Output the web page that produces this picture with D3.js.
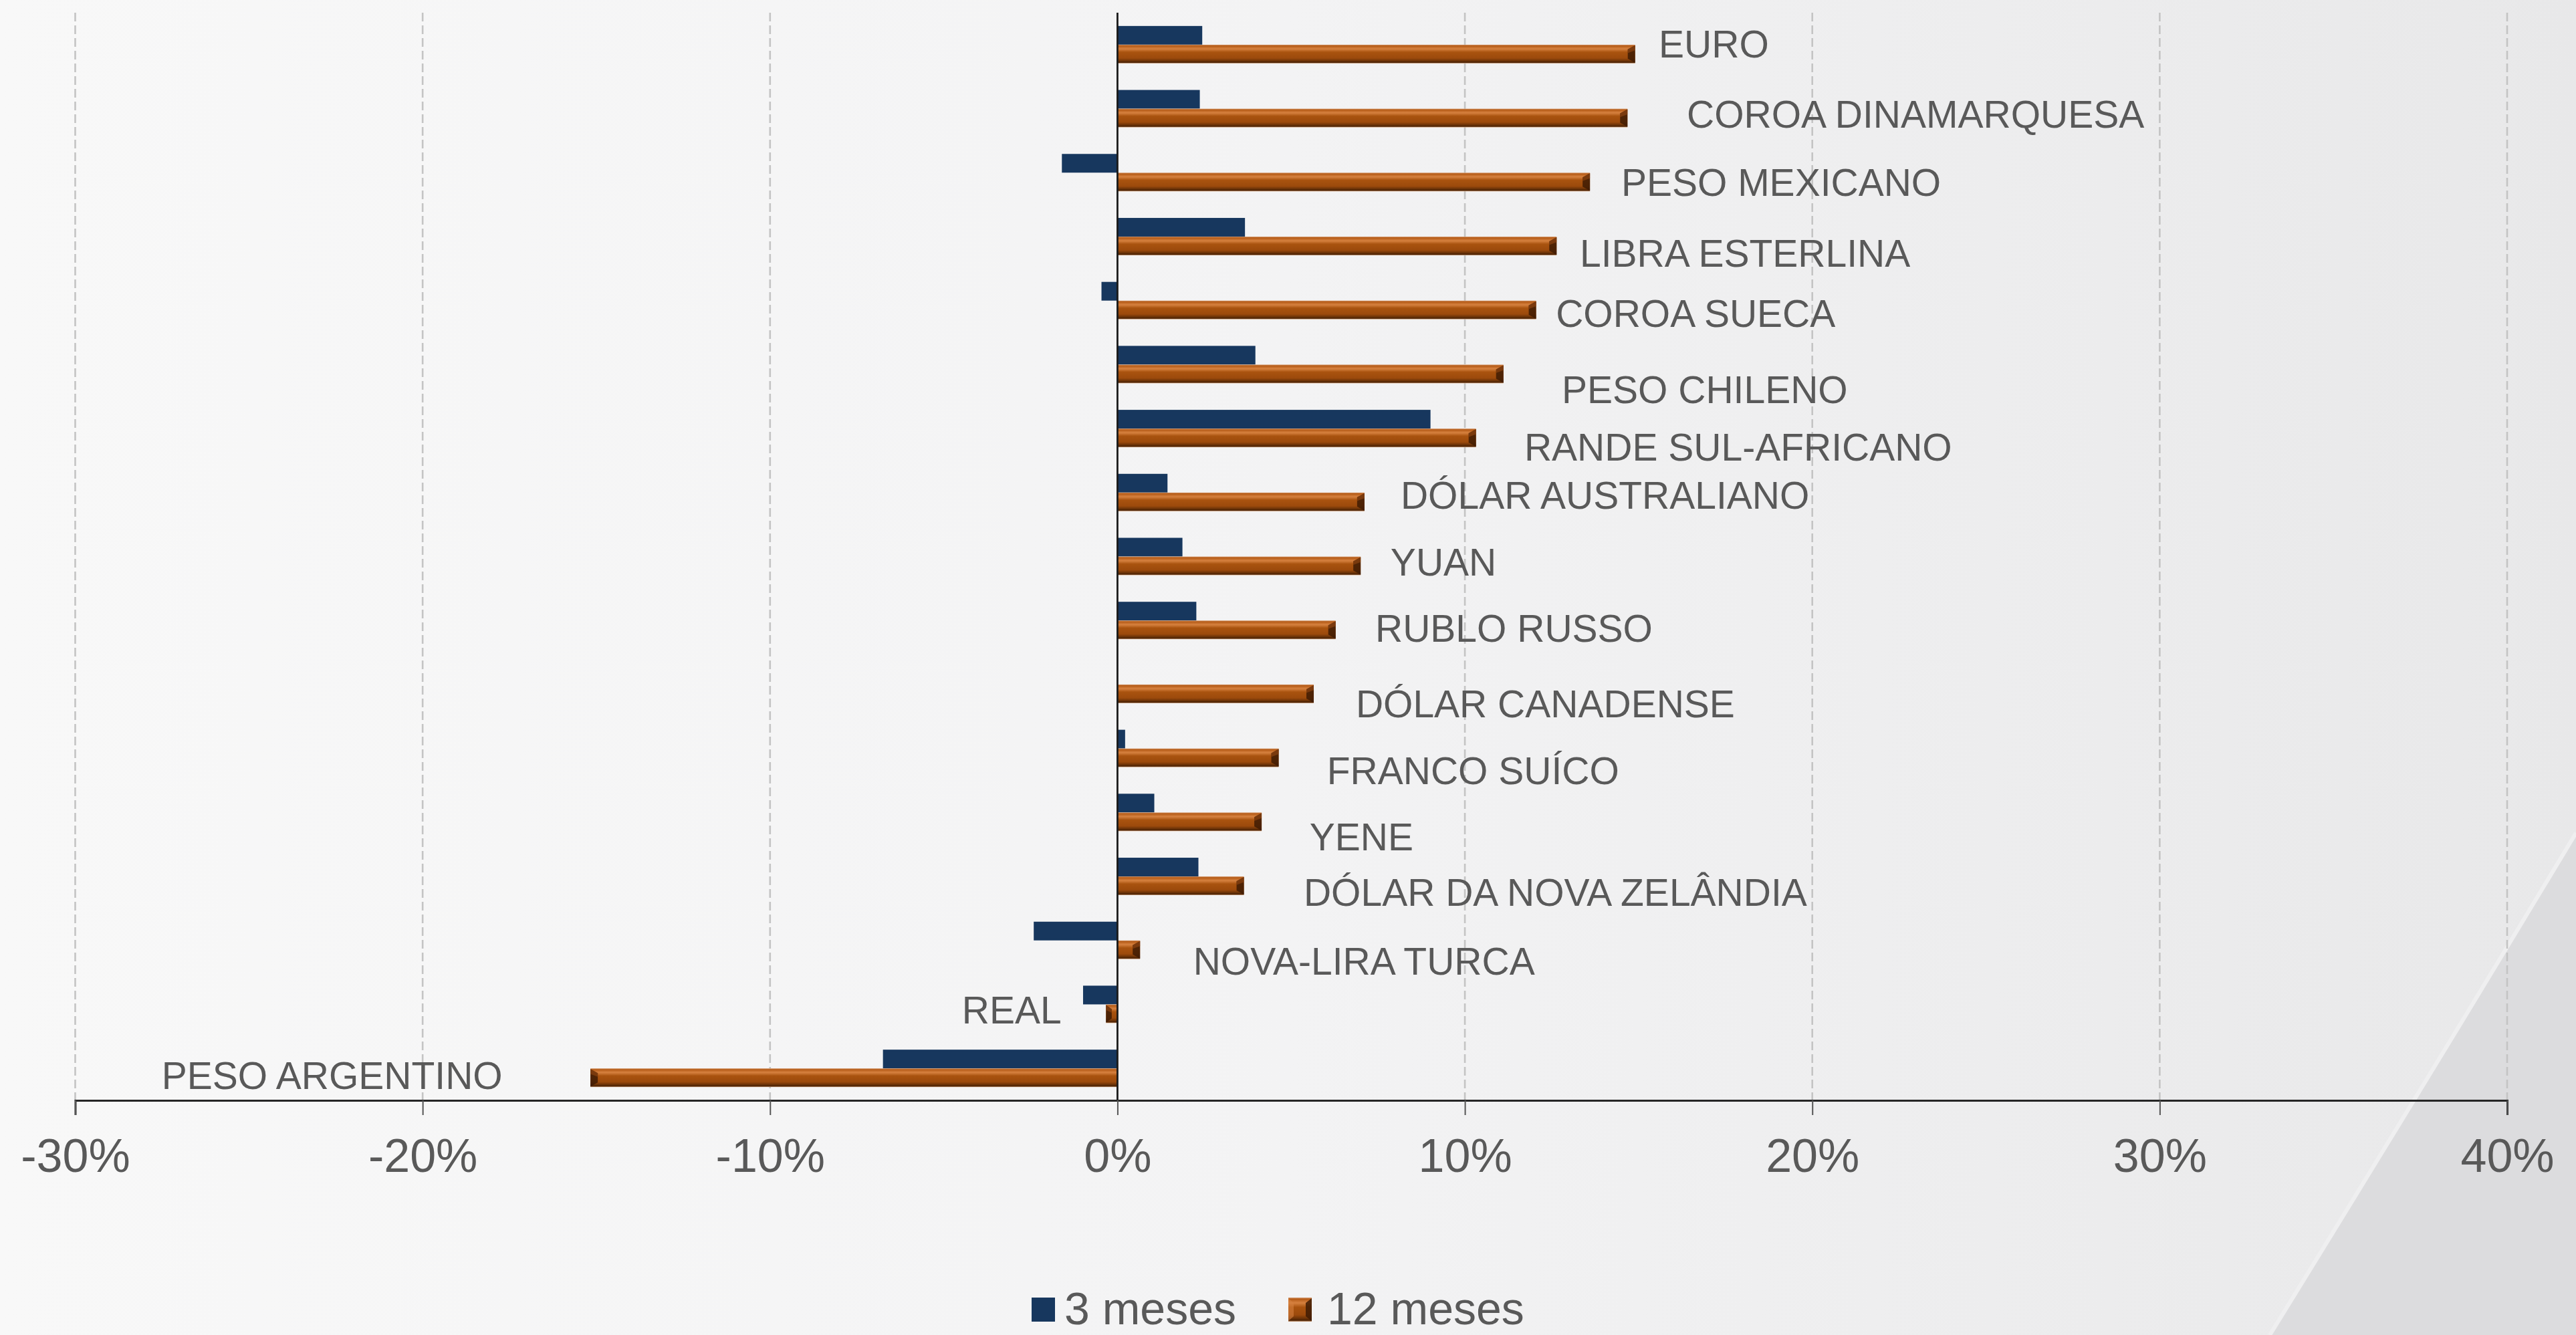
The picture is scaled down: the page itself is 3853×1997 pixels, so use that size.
<!DOCTYPE html>
<html>
<head>
<meta charset="utf-8">
<script src="https://cdn.jsdelivr.net/npm/d3@7"></script>
<style>
  html, body { margin: 0; padding: 0; background: #f4f4f4; }
  svg { display: block; }
  text { font-family: "Liberation Sans", Arial, sans-serif; fill: #595959; }
</style>
</head>
<body>
<svg id="chart" width="3853" height="1997"></svg>
<script>
// ---------- DATA ----------
const categories = [
  "EURO", "COROA DINAMARQUESA", "PESO MEXICANO", "LIBRA ESTERLINA", "COROA SUECA",
  "PESO CHILENO", "RANDE SUL-AFRICANO", "DÓLAR AUSTRALIANO", "YUAN", "RUBLO RUSSO",
  "DÓLAR CANADENSE", "FRANCO SUÍCO", "YENE", "DÓLAR DA NOVA ZELÂNDIA",
  "NOVA-LIRA TURCA", "REAL", "PESO ARGENTINO"
];
const seriesNames = ["3 meses", "12 meses"];
const values3m  = [2.44, 2.37, -1.6, 3.67, -0.46, 3.97, 9.01, 1.44, 1.87, 2.27, 0.0, 0.22, 1.06, 2.33, -2.41, -0.99, -6.75];
const values12m = [14.9, 14.68, 13.6, 12.64, 12.05, 11.11, 10.32, 7.11, 7.0, 6.28, 5.65, 4.64, 4.15, 3.64, 0.65, -0.33, -15.17];
const xTicks = [-30, -20, -10, 0, 10, 20, 30, 40];

// label layout (anchor in axis units, vertical shift in px) – layout only
const labelAnchor = [15.58, 16.39, 14.5, 13.31, 12.62, 12.79, 11.71, 8.15, 7.86, 7.42, 6.86, 6.03, 5.53, 5.36, 2.18, -1.61, -17.7];
const labelShift  = [-1.5, 8, 14, 25, 19, 37, 28, 4, 8, 11, 29, 33, 36, 24, 31, 8, 10];

// ---------- LAYOUT ----------
const W = 3853, H = 1997;
const plotTop = 19, plotBottom = 1646;
const svg = d3.select("#chart");
const defs = svg.append("defs");

// background gradient
const bg = defs.append("linearGradient").attr("id", "bg").attr("x1", "0").attr("x2", "1").attr("y1", "0").attr("y2", "0");
bg.append("stop").attr("offset", "0").attr("stop-color", "#f8f8f8");
bg.append("stop").attr("offset", "0.5").attr("stop-color", "#f3f3f4");
bg.append("stop").attr("offset", "1").attr("stop-color", "#e8e8e9");
svg.append("rect").attr("width", W).attr("height", H).attr("fill", "url(#bg)");

// swoosh in bottom-right corner
svg.append("path")
  .attr("d", "M3395,1997 Q3640,1600 3853,1246 L3853,1997 Z")
  .attr("fill", "#dcdcde");
svg.append("path")
  .attr("d", "M3395,1997 Q3640,1600 3853,1246")
  .attr("fill", "none").attr("stroke", "#efeff0").attr("stroke-width", 6);

// orange bar gradient (vertical)
const og = defs.append("linearGradient").attr("id", "orange").attr("x1", "0").attr("x2", "0").attr("y1", "0").attr("y2", "1");
[[0, "#d9a27a"], [0.06, "#b45a16"], [0.22, "#d6813f"], [0.4, "#a9530f"], [0.72, "#9c4a0c"],
 [0.86, "#6e3408"], [0.95, "#4a2205"], [1, "#e0b08a"]].forEach(s =>
  og.append("stop").attr("offset", s[0]).attr("stop-color", s[1]));

// ---------- SCALES ----------
const x = d3.scaleLinear().domain([-30, 40]).range([112.5, 3750]);
const y = d3.scaleBand().domain(categories).range([plotTop, plotBottom]).paddingInner(0.415).paddingOuter(0.2075);
const ys = d3.scaleBand().domain(seriesNames).range([0, y.bandwidth()]);

// ---------- GRID ----------
svg.append("g").selectAll("line").data(xTicks.filter(t => t !== 0)).join("line")
  .attr("x1", d => x(d)).attr("x2", d => x(d))
  .attr("y1", plotTop).attr("y2", plotBottom)
  .attr("stroke", "#c4c4c4").attr("stroke-width", 2.6).attr("stroke-dasharray", "13,6");

// ---------- BARS ----------
const rows = categories.map((c, i) => ({ c, i, v3: values3m[i], v12: values12m[i] }));

const gBars = svg.append("g");
gBars.selectAll("rect.b3").data(rows).join("rect").attr("class", "b3")
  .attr("x", d => x(Math.min(0, d.v3)))
  .attr("width", d => Math.abs(x(d.v3) - x(0)))
  .attr("y", d => y(d.c) + ys("3 meses"))
  .attr("height", ys.bandwidth())
  .attr("fill", "#17375e");

gBars.selectAll("rect.b12").data(rows).join("rect").attr("class", "b12")
  .attr("x", d => x(Math.min(0, d.v12)))
  .attr("width", d => Math.abs(x(d.v12) - x(0)))
  .attr("y", d => y(d.c) + ys("12 meses"))
  .attr("height", ys.bandwidth())
  .attr("fill", "url(#orange)");

// bevel at far end of orange bars
gBars.selectAll("path.bev").data(rows).join("path").attr("class", "bev")
  .attr("d", d => {
    const xe = x(d.v12), y0 = y(d.c) + ys("12 meses"), h = ys.bandwidth();
    const dir = d.v12 >= 0 ? -1 : 1;
    const w = Math.min(11, Math.abs(x(d.v12) - x(0)) / 2);
    return `M${xe},${y0 + 1} L${xe + dir * w},${y0 + 7} L${xe + dir * w},${y0 + h - 7} L${xe},${y0 + h - 1} Z`;
  })
  .attr("fill", "#3e1b03").attr("opacity", 0.85);
gBars.selectAll("path.bev2").data(rows).join("path").attr("class", "bev2")
  .attr("d", d => {
    const xe = x(d.v12), y0 = y(d.c) + ys("12 meses"), h = ys.bandwidth();
    const dir = d.v12 >= 0 ? -1 : 1;
    const w = Math.min(11, Math.abs(x(d.v12) - x(0)) / 2);
    return `M${xe},${y0 + 1} L${xe + dir * w},${y0 + 7} L${xe + dir * w},${y0 + h * 0.45} L${xe},${y0 + h * 0.3} Z`;
  })
  .attr("fill", "#8a4210").attr("opacity", 0.7);

// ---------- AXES ----------
// zero line
svg.append("line")
  .attr("x1", x(0)).attr("x2", x(0)).attr("y1", plotTop).attr("y2", plotBottom)
  .attr("stroke", "#1a1a1a").attr("stroke-width", 2.8);

const xAxis = d3.axisBottom(x).tickValues(xTicks).tickFormat(d => d + "%").tickSize(22).tickPadding(35);
const gx = svg.append("g").attr("transform", `translate(0,${plotBottom})`).call(xAxis);
gx.select(".domain").attr("stroke", "#262626").attr("stroke-width", 3);
gx.selectAll(".tick line").attr("stroke", "#555").attr("stroke-width", 2);
gx.selectAll(".tick text").attr("font-size", 70).attr("fill", "#595959")
  .attr("font-family", "'Liberation Sans', Arial, sans-serif");

// ---------- CATEGORY LABELS ----------
svg.append("g").selectAll("text").data(rows).join("text")
  .attr("x", d => x(labelAnchor[d.i]))
  .attr("y", d => y(d.c) + y.bandwidth() / 2 + labelShift[d.i])
  .attr("dy", "0.358em")
  .attr("text-anchor", d => labelAnchor[d.i] < 0 ? "end" : "start")
  .attr("font-size", 57)
  .text(d => d.c);

// ---------- LEGEND ----------
const legend = svg.append("g").attr("transform", "translate(0,-7)");
legend.append("rect").attr("x", 1543).attr("y", 1948).attr("width", 35).attr("height", 36).attr("fill", "#17375e");
legend.append("text").attr("x", 1592).attr("y", 1988).attr("font-size", 68).text(seriesNames[0]);
legend.append("rect").attr("x", 1927).attr("y", 1948).attr("width", 35).attr("height", 36).attr("fill", "url(#orange)");
legend.append("path").attr("d", "M1962,1949 L1953,1956 L1953,1976 L1962,1983 Z").attr("fill", "#3e1b03").attr("opacity", 0.85);
legend.append("path").attr("d", "M1927,1949 L1935,1956 L1935,1976 L1927,1983 Z").attr("fill", "#d6813f").attr("opacity", 0.6);
legend.append("text").attr("x", 1985).attr("y", 1988).attr("font-size", 68).text(seriesNames[1]);
</script>
</body>
</html>
